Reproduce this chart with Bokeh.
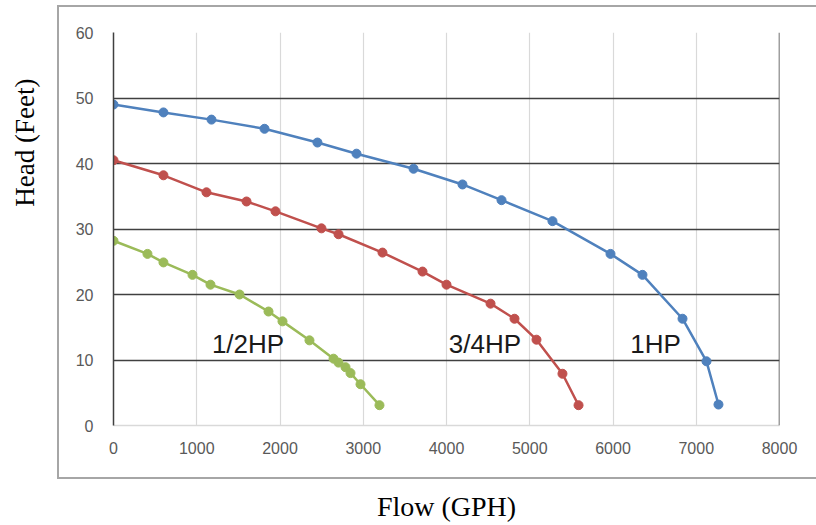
from bokeh.plotting import figure
from bokeh.models import Range1d, FixedTicker, Span, Label, Title
from bokeh.embed import file_html
from bokeh.resources import INLINE

# ---- data ----
flow_1hp = [0, 600, 1177, 1814, 2450, 2919, 3604, 4192, 4661, 5273, 5970, 6354, 6835, 7123, 7267]
head_1hp = [49.0, 47.8, 46.7, 45.3, 43.2, 41.5, 39.2, 36.8, 34.4, 31.2, 26.2, 23.0, 16.3, 9.8, 3.2]

flow_34hp = [0, 600, 1117, 1598, 1946, 2498, 2703, 3231, 3712, 4000, 4529, 4817, 5081, 5393, 5586]
head_34hp = [40.5, 38.2, 35.6, 34.2, 32.7, 30.1, 29.2, 26.4, 23.5, 21.5, 18.6, 16.3, 13.1, 7.9, 3.1]

flow_12hp = [0, 408, 600, 949, 1165, 1514, 1862, 2030, 2354, 2643, 2703, 2787, 2847, 2967, 3195]
head_12hp = [28.2, 26.2, 24.9, 23.0, 21.5, 20.0, 17.4, 15.9, 13.0, 10.2, 9.6, 8.9, 8.0, 6.3, 3.1]

x_ticks = [0, 1000, 2000, 3000, 4000, 5000, 6000, 7000, 8000]
y_ticks = [0, 10, 20, 30, 40, 50, 60]

series_names = ["1/2HP", "3/4HP", "1HP"]
x_title = "Flow (GPH)"
y_title = "Head (Feet)"

# ---- figure ----
p = figure(width=816, height=525, x_range=Range1d(0, 8000), y_range=Range1d(0, 60),
           output_backend="svg", toolbar_location=None,
           min_border_left=113, min_border_right=37, min_border_top=32, min_border_bottom=100)
p.outline_line_color = None
p.background_fill_color = "white"
p.border_fill_color = None
# outer grey chart-area frame (drawn as CSS background behind the transparent canvas border)
g = "linear-gradient(#a6a6a6, #a6a6a6)"
p.styles = {
    "background-color": "white",
    "background-image": ", ".join([g, g, g]),
    "background-size": "760px 2px, 760px 2px, 2px 472px",
    "background-position": "57px 5px, 57px 477px, 57px 5px",
    "background-repeat": "no-repeat",
}

p.xaxis.ticker = FixedTicker(ticks=x_ticks)
p.yaxis.ticker = FixedTicker(ticks=y_ticks)
for ax in (p.xaxis, p.yaxis):
    ax.major_tick_line_color = None
    ax.minor_tick_line_color = None
    ax.major_tick_out = 0
    ax.major_tick_in = 0
    ax.major_label_text_font = "Liberation Sans"
    ax.major_label_text_font_size = "16px"
    ax.major_label_text_color = "#595959"
p.xaxis.axis_line_color = "#d9d9d9"
p.xaxis.axis_line_width = 1.5
p.xaxis.major_label_standoff = 16
p.xaxis.axis_label = x_title
p.xaxis.axis_label_text_font = "Liberation Serif"
p.xaxis.axis_label_text_font_size = "28px"
p.xaxis.axis_label_text_font_style = "normal"
p.xaxis.axis_label_text_color = "black"
p.xaxis.axis_label_standoff = 34
p.yaxis.axis_line_color = "#404040"
p.yaxis.axis_line_width = 1.5
p.yaxis.major_label_standoff = 20

# spacer between the y tick labels and the y title, then the title itself
p.add_layout(Title(text=" ", standoff=19, text_font_size="10px"), "left")
p.add_layout(Title(text=y_title, align="right", offset=46, standoff=2,
                   text_font="Liberation Serif", text_font_size="27px",
                   text_font_style="normal", text_color="black"), "left")

p.ygrid.ticker = FixedTicker(ticks=[t for t in y_ticks if t > 0])
p.ygrid.grid_line_color = "#404040"
p.ygrid.grid_line_width = 1.5
p.xgrid.ticker = FixedTicker(ticks=[t for t in x_ticks if 0 < t < 8000])
p.xgrid.grid_line_color = "#d9d9d9"
p.xgrid.grid_line_width = 1.2

p.add_layout(Span(location=8000, dimension="height", line_color="#404040", line_width=1.5))

colors = ["#9BBB59", "#C0504D", "#4F81BD"]
for fx, hy, c in [(flow_12hp, head_12hp, colors[0]),
                  (flow_34hp, head_34hp, colors[1]),
                  (flow_1hp, head_1hp, colors[2])]:
    p.line(fx, hy, line_color=c, line_width=2.5)
    p.scatter(fx, hy, size=9, fill_color=c, line_color=c)

for name, lx in zip(series_names, [1616, 4462, 6511]):
    p.add_layout(Label(x=lx, y=12.4, text=name, text_align="center", text_baseline="middle",
                       text_font="Liberation Sans", text_font_size="26px", text_color="#1a1a1a"))

open("out.html", "w").write(file_html(p, INLINE))
